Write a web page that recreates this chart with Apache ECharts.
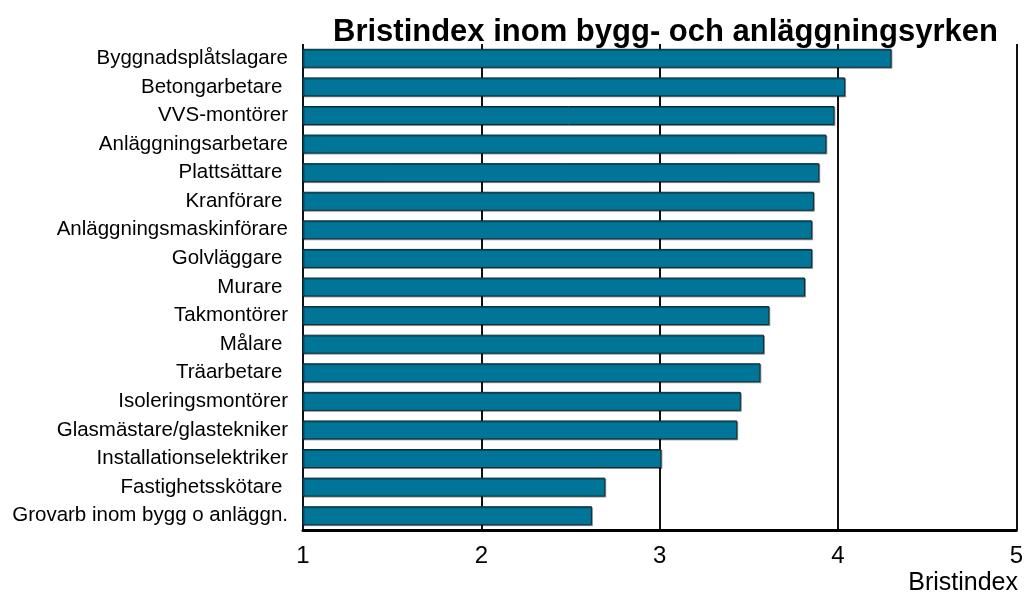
<!DOCTYPE html>
<html>
<head>
<meta charset="utf-8">
<script src="https://cdn.jsdelivr.net/npm/echarts@6/dist/echarts.min.js"></script>
<style>html,body{margin:0;padding:0;background:#fff}#c{width:1026px;height:595px}</style>
</head>
<body>
<div id="c"></div>
<script>
const titleText = 'Bristindex inom bygg- och anläggningsyrken';
const axisName = 'Bristindex';
const categories = [
  'Byggnadsplåtslagare',
  'Betongarbetare ',
  'VVS-montörer',
  'Anläggningsarbetare',
  'Plattsättare ',
  'Kranförare ',
  'Anläggningsmaskinförare',
  'Golvläggare ',
  'Murare ',
  'Takmontörer',
  'Målare ',
  'Träarbetare ',
  'Isoleringsmontörer',
  'Glasmästare/glastekniker',
  'Installationselektriker',
  'Fastighetsskötare ',
  'Grovarb inom bygg o anläggn.'
];
const values = [4.30, 4.04, 3.98, 3.935, 3.895, 3.865, 3.855, 3.855, 3.815, 3.615, 3.585, 3.565, 3.455, 3.435, 3.01, 2.695, 2.62];
const xTicks = [1, 2, 3, 4, 5];

const FONT = "'Liberation Sans', Arial, sans-serif";
const chart = echarts.init(document.getElementById('c'), null, {renderer: 'canvas'});
chart.setOption({
  backgroundColor: '#ffffff',
  animation: false,
  title: {
    text: titleText,
    left: 328,
    top: 12,
    textStyle: {fontFamily: FONT, fontWeight: 'bold', fontSize: 31, color: '#000'}
  },
  grid: {left: 303, right: 7, top: 44, bottom: 65, containLabel: false},
  xAxis: {
    type: 'value',
    min: xTicks[0],
    max: xTicks[xTicks.length - 1],
    interval: 1,
    axisLine: {show: true, lineStyle: {color: '#000', width: 3}},
    axisTick: {show: false},
    axisLabel: {fontFamily: FONT, fontSize: 24, color: '#000', margin: 14},
    splitLine: {show: true, lineStyle: {color: '#111', width: 2}}
  },
  yAxis: {
    type: 'category',
    data: categories,
    inverse: true,
    axisLine: {show: false},
    axisTick: {show: false},
    axisLabel: {fontFamily: FONT, fontSize: 20.5, color: '#000', margin: 15},
    splitLine: {show: false}
  },
  graphic: [{
    type: 'text',
    right: 8,
    top: 571,
    style: {text: axisName, font: '25px ' + FONT, fill: '#000'}
  }],
  series: [{
    type: 'bar',
    data: values,
    barWidth: 19,
    clip: true,
    itemStyle: {
      color: '#007598',
      borderColor: '#0c2c38',
      borderWidth: 1,
      shadowColor: 'rgba(0,0,0,0.35)',
      shadowOffsetX: 1,
      shadowOffsetY: 1,
      shadowBlur: 0
    }
  }]
});
</script>
</body>
</html>
